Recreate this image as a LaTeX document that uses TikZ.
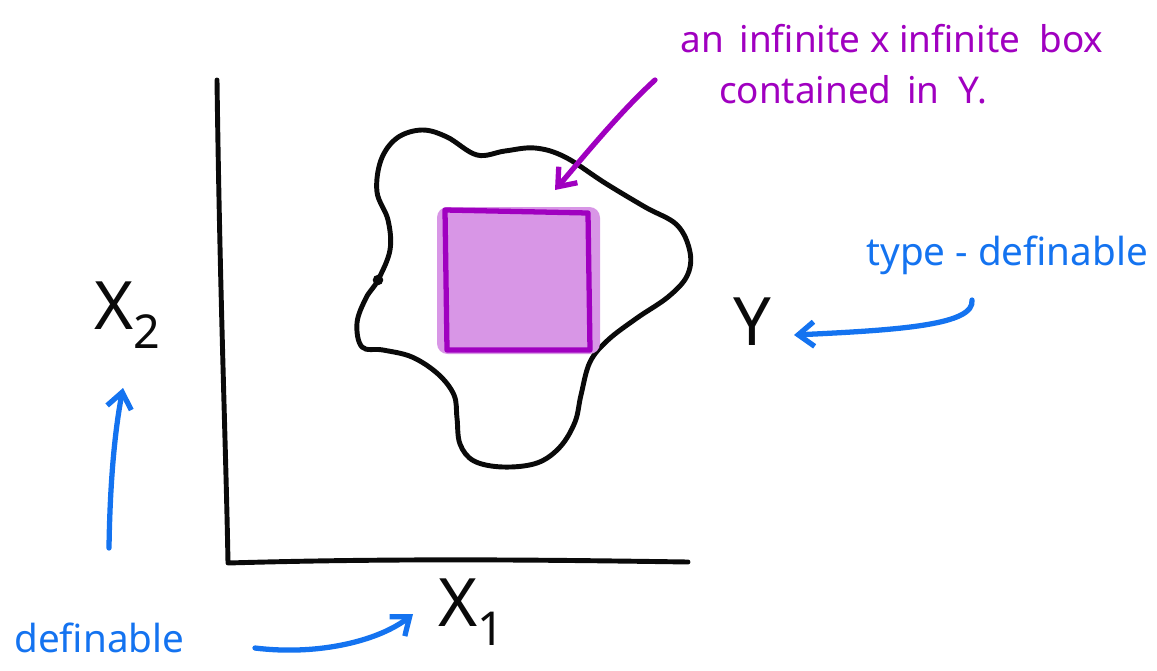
\documentclass[tikz,border=0pt]{standalone}
\usepackage{fontspec}
\setmainfont{Noto Sans}
\usetikzlibrary{arrows.meta}
\definecolor{pen-black}{RGB}{10,10,10}
\definecolor{pen-purple}{RGB}{160,0,192}
\definecolor{box-fill}{RGB}{216,150,230}
\definecolor{pen-blue}{RGB}{20,115,240}

\begin{document}
\begin{tikzpicture}[
  x=0.02cm, y=-0.02cm,
  line cap=round, line join=round,
  % Pen styles
  blackpen/.style  = {draw=pen-black, line width=2.8pt},
  purplepen/.style = {draw=pen-purple, line width=3pt},
  bluepen/.style   = {draw=pen-blue, line width=3pt},
  barb/.style      = {-{Straight Barb[length=9pt, width=14pt, line width=3pt]}},
  % Text styles
  axislabel/.style = {text=pen-black, font=\fontsize{38}{40}\selectfont, inner sep=0pt},
  notepurple/.style= {text=pen-purple, font=\fontsize{21}{31}\selectfont, align=left, inner sep=0pt},
  noteblue/.style  = {text=pen-blue, font=\fontsize{22}{24}\selectfont, inner sep=0pt},
]
\useasboundingbox (0,0) rectangle (1157,670);

% ── Axes ───────────────────────────────────────────────────────────────────────
\coordinate (top) at (217,80);
\coordinate (origin) at (228,563);
\coordinate (right) at (688,562);
\draw[blackpen] (top) .. controls (220,300) and (226,450) .. (origin)
  .. controls (400,558) and (550,560) .. (right);

% ── Region Y ───────────────────────────────────────────────────────────────────
\draw[blackpen] plot[smooth cycle, tension=0.6] coordinates {
  (378,280) (390,250) (388,220) (377,192) (381,160) (397,138) (422,130)
  (447,137) (477,155) (505,151) (535,148) (565,157) (605,183) (645,207)
  (677,225) (690,252) (687,276) (668,297) (637,318) (608,340) (590,362)
  (581,395) (575,422) (560,447) (537,463) (503,467) (474,461) (460,444)
  (457,418) (454,395) (438,374) (412,357) (383,350) (362,347) (357,323)
  (366,298)};
\fill[pen-black] (378,280) circle (3pt);

% ── Box ────────────────────────────────────────────────────────────────────────
\fill[box-fill, rounded corners=6pt] (437,207) rectangle (600,354);
\draw[purplepen] (445,210) -- (588,213) -- (590,350) -- (447,350) -- cycle;

% ── Labels ─────────────────────────────────────────────────────────────────────
\node[axislabel] (xtwo) at (128,315) {X\textsubscript{2}};
\node[axislabel] (xone) at (472,612) {X\textsubscript{1}};
\node[axislabel] (ylabel) at (752,322) {Y};

\node[notepurple, anchor=north west] (boxnote) at (680,24)
  {an \,infinite x infinite \ box\\[-2pt]
   \hspace*{22pt}contained \,in \ Y.};
\node[noteblue, anchor=west] (typedef) at (866,255) {type - definable};
\node[noteblue, anchor=west] (def) at (14,638) {definable};

% ── Arrows ─────────────────────────────────────────────────────────────────────
\coordinate (boxtip) at (555,190);
\draw[purplepen, barb] (655,80) .. controls (620,112) and (585,155) .. (boxtip);

\coordinate (ytip) at (794,335);
\draw[bluepen, barb] (972,300) .. controls (975,325) and (900,330) .. (ytip);

\coordinate (xtwotip) at (123,388);
\draw[bluepen, barb] (109,548) .. controls (110,480) and (115,430) .. (xtwotip);

\coordinate (xonetip) at (413,614);
\draw[bluepen, barb] (255,648) .. controls (320,656) and (380,640) .. (xonetip);

\end{tikzpicture}
\end{document}
